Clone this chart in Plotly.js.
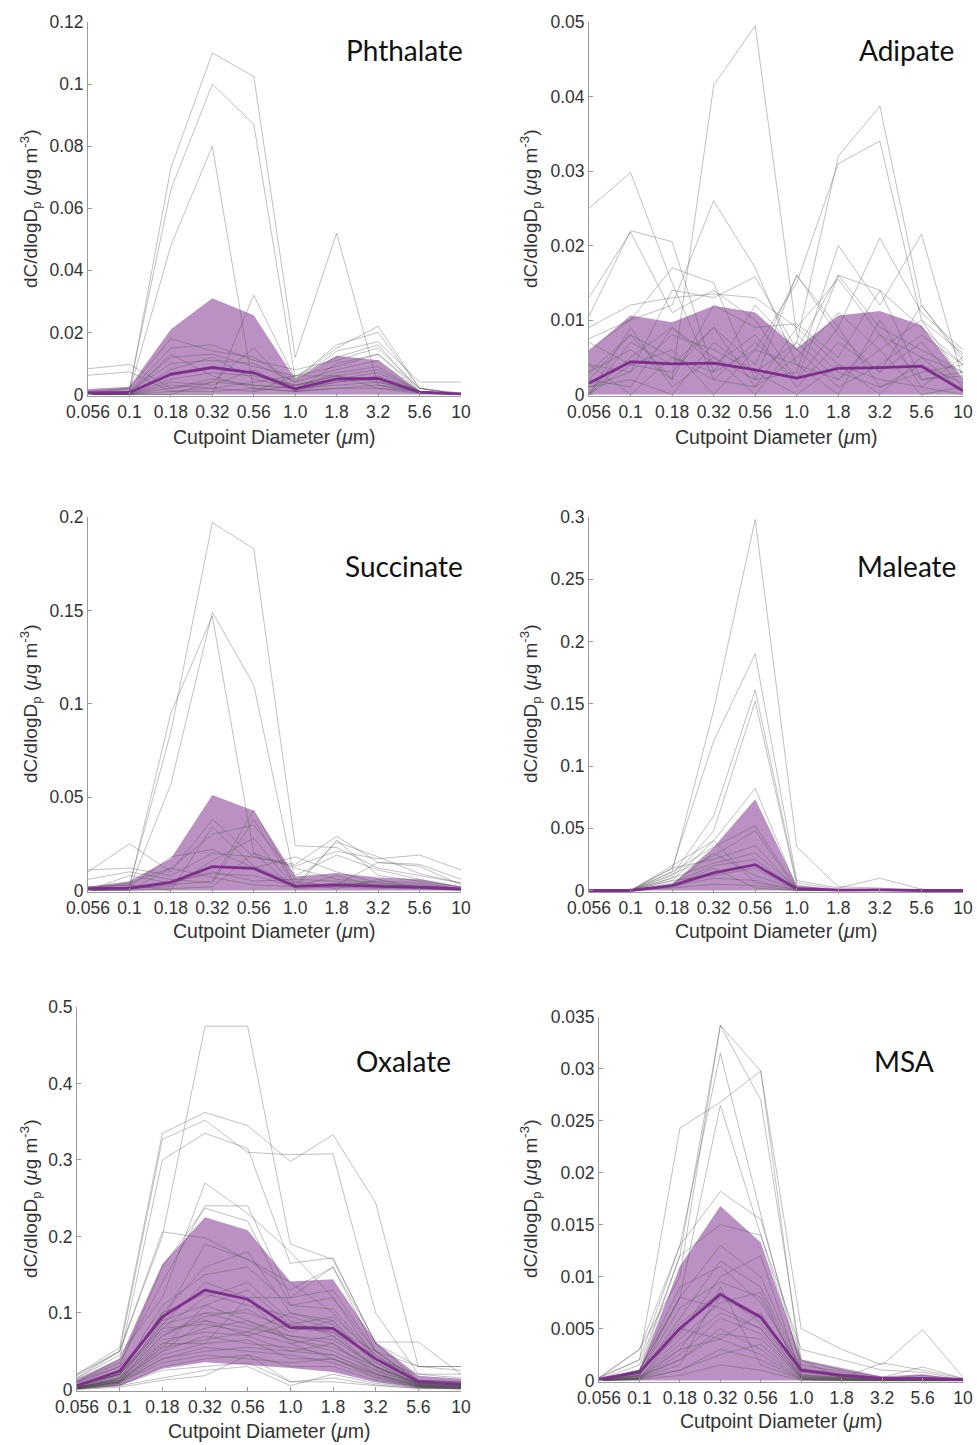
<!DOCTYPE html>
<html>
<head>
<meta charset="utf-8">
<script src="https://cdn.plot.ly/plotly-3.0.1.min.js"></script>
<style>html,body{margin:0;padding:0;background:#fff;}#chart{width:977px;height:1445px;}</style>
</head>
<body>
<div id="chart"></div>
<script>
// ---------------- DATA ----------------
const diameters = ['0.056','0.1','0.18','0.32','0.56','1.0','1.8','3.2','5.6','10'];

// Phthalate
const phthalateTicks = [0,0.02,0.04,0.06,0.08,0.1,0.12];
const phthalateTickText = ['0','0.02','0.04','0.06','0.08','0.1','0.12'];
const phthalateUpper = [0.0018,0.0025,0.021,0.031,0.0255,0.005,0.0125,0.011,0.001,0.0003];
const phthalateLower = [0,0,0,0,0,0,0,0,0,0];
const phthalateMean  = [0.0005,0.0006,0.0065,0.0087,0.007,0.0018,0.005,0.0052,0.0008,0.0002];
const phthalateSamples = [
  [0.0005,0.001,0.073,0.110,0.1025,0.012,0.052,0.003,0.001,0],
  [0.0003,0.002,0.066,0.100,0.087,0.005,0.015,0.022,0.002,0],
  [0.0005,0.001,0.048,0.080,0.001,0.006,0.012,0.016,0.001,0],
  [0,0,0.0,0.0,0.032,0.005,0.016,0.020,0.002,0],
  [0.0083,0.0097,0.002,0.004,0.003,0.002,0.004,0.005,0.001,0],
  [0.0062,0.0073,0.001,0.002,0.001,0.003,0.006,0.004,0.001,0],
  [0.001,0.002,0.018,0.014,0.012,0.004,0.014,0.017,0.004,0.004],
  [0.001,0.001,0.015,0.016,0.011,0.008,0.011,0.015,0.002,0.0005],
  [0,0.001,0.012,0.013,0.009,0.006,0.009,0.013,0.002,0],
  [0,0.001,0.010,0.011,0.010,0.004,0.008,0.011,0.001,0],
  [0,0,0.008,0.012,0.005,0.002,0.007,0.009,0.001,0],
  [0,0,0.005,0.007,0.006,0.003,0.005,0.007,0.001,0],
  [0,0,0.004,0.003,0.008,0.001,0.004,0.006,0.001,0],
  [0,0,0.002,0.005,0.003,0.002,0.003,0.004,0.0005,0],
  [0,0,0.013,0.006,0.002,0.001,0.002,0.003,0.0005,0],
  [0,0,0.003,0.002,0.004,0.006,0.006,0.002,0.001,0],
  [0,0,0.0,0.004,0.015,0.001,0.010,0.013,0.001,0],
  [0,0,0.007,0.009,0.007,0.003,0.006,0.008,0.001,0],
  [0,0,0.001,0.001,0.002,0.001,0.002,0.002,0.0003,0]
];

// Adipate
const adipateTicks = [0,0.01,0.02,0.03,0.04,0.05];
const adipateTickText = ['0','0.01','0.02','0.03','0.04','0.05'];
const adipateUpper = [0.0059,0.0106,0.0097,0.0119,0.011,0.0062,0.0106,0.0112,0.0093,0.002];
const adipateLower = [0,0,0,0,0,0,0,0,0,0];
const adipateMean  = [0.0015,0.0044,0.0041,0.0042,0.0033,0.0022,0.0035,0.0036,0.0038,0.0005];
const adipateSamples = [
  [0.025,0.0298,0.015,0.002,0.001,0.009,0.004,0.002,0.001,0.005],
  [0.003,0.006,0.002,0.0415,0.0495,0.008,0.003,0.001,0.003,0.004],
  [0.004,0.003,0.008,0.006,0.003,0.007,0.032,0.0387,0.012,0.005],
  [0.002,0.008,0.005,0.003,0.006,0.015,0.031,0.034,0.010,0.0055],
  [0.006,0.010,0.012,0.026,0.017,0.004,0.002,0.008,0.002,0.003],
  [0.0105,0.022,0.0205,0.003,0.012,0.006,0.001,0.004,0.008,0.004],
  [0.013,0.0218,0.011,0.014,0.010,0.002,0.016,0.009,0.006,0.003],
  [0,0.005,0.009,0.005,0.002,0.003,0.020,0.012,0.0215,0.002],
  [0.007,0.004,0.003,0.009,0.004,0.016,0.009,0.021,0.011,0.006],
  [0.001,0.003,0.014,0.013,0.0158,0.006,0.016,0.014,0.009,0.004],
  [0.0075,0.010,0.017,0.015,0.002,0.016,0.008,0.003,0.012,0.0045],
  [0.009,0.012,0.013,0.0135,0.013,0.009,0.0155,0.008,0.005,0.003],
  [0.003,0.008,0.002,0.012,0.009,0.0095,0.005,0.014,0.002,0.0025],
  [0,0.007,0.004,0.009,0.001,0.005,0.011,0.006,0.010,0.002],
  [0.002,0.001,0.009,0.004,0.008,0.001,0.007,0.003,0.007,0.001],
  [0,0.004,0.006,0,0.006,0.004,0,0.010,0.001,0],
  [0.001,0.002,0,0.007,0.003,0,0.004,0,0.005,0.0005],
  [0,0.009,0.001,0.005,0,0.007,0.002,0.006,0,0.001],
  [0.004,0,0.005,0.002,0.007,0.002,0.009,0.001,0.004,0.0015]
];

// Succinate
const succinateTicks = [0,0.05,0.1,0.15,0.2];
const succinateTickText = ['0','0.05','0.1','0.15','0.2'];
const succinateUpper = [0.002,0.005,0.0172,0.0512,0.0427,0.0075,0.0094,0.007,0.006,0.002];
const succinateLower = [0,0,0,0,0,0,0,0,0,0];
const succinateMean  = [0.001,0.0012,0.0044,0.0128,0.0119,0.0022,0.003,0.0022,0.0018,0.0008];
const succinateSamples = [
  [0.001,0.003,0.085,0.197,0.183,0.024,0.023,0.012,0.008,0.004],
  [0.002,0.001,0.057,0.149,0.110,0.005,0.002,0.001,0.001,0.001],
  [0.0,0.002,0.095,0.147,0.020,0.012,0.006,0.004,0.002,0.001],
  [0.001,0.001,0.003,0.005,0.043,0.003,0.026,0.018,0.009,0.004],
  [0.010,0.025,0.010,0.038,0.018,0.014,0.029,0.015,0.013,0.003],
  [0.011,0.012,0.008,0.020,0.018,0.013,0.021,0.017,0.019,0.011],
  [0.006,0.010,0.006,0.004,0.038,0.002,0.003,0.015,0.014,0.006],
  [0.001,0.004,0.012,0.030,0.035,0.008,0.019,0.011,0.006,0.002],
  [0,0.002,0.018,0.022,0.012,0.018,0.010,0.004,0.003,0.001],
  [0,0.001,0.002,0.016,0.028,0.001,0.027,0.008,0.005,0.002],
  [0,0.008,0.004,0.010,0.005,0.006,0.005,0.003,0.002,0.001],
  [0,0,0.001,0.002,0.020,0.001,0.002,0.005,0.004,0.001],
  [0,0,0.012,0.007,0.003,0.002,0.008,0.002,0.001,0],
  [0.002,0.003,0.000,0.034,0.013,0.004,0.001,0.006,0.001,0.0005],
  [0,0.001,0.005,0.009,0.008,0.002,0.004,0.003,0.002,0.001]
];

// Maleate
const maleateTicks = [0,0.05,0.1,0.15,0.2,0.25,0.3];
const maleateTickText = ['0','0.05','0.1','0.15','0.2','0.25','0.3'];
const maleateUpper = [0,0,0.005,0.0347,0.0733,0.004,0.001,0.001,0.0003,0];
const maleateLower = [0,0,0,0,0,0,0,0,0,0];
const maleateMean  = [0,0,0.004,0.0141,0.0208,0.0015,0.0003,0.0005,0,0];
const maleateSamples = [
  [0,0,0.015,0.145,0.298,0.035,0.003,0.002,0,0],
  [0,0,0.018,0.120,0.190,0.008,0.002,0.0099,0.001,0],
  [0,0,0.012,0.060,0.161,0.006,0.001,0.001,0,0],
  [0,0,0.010,0.048,0.152,0.004,0,0,0,0],
  [0,0,0.008,0.040,0.082,0.002,0,0,0,0],
  [0,0,0.020,0.040,0.006,0.001,0,0,0,0],
  [0,0,0.015,0.035,0.052,0.002,0,0.001,0,0],
  [0,0,0.013,0.028,0.048,0.001,0,0,0,0],
  [0,0,0.018,0.025,0.036,0.001,0,0,0,0],
  [0,0,0.010,0.022,0.030,0.002,0,0,0,0],
  [0,0,0.006,0.020,0.025,0.001,0,0,0,0],
  [0,0,0.005,0.030,0.012,0.001,0,0,0,0],
  [0,0,0.008,0.012,0.018,0,0,0,0,0],
  [0,0,0.003,0.010,0.008,0,0,0,0,0],
  [0,0,0.002,0.005,0.004,0,0,0,0,0],
  [0,0,0.004,0.018,0.002,0,0,0,0,0]
];

// Oxalate
const oxalateTicks = [0,0.1,0.2,0.3,0.4,0.5];
const oxalateTickText = ['0','0.1','0.2','0.3','0.4','0.5'];
const oxalateUpper = [0.014,0.040,0.164,0.225,0.208,0.141,0.144,0.062,0.018,0.014];
const oxalateLower = [0.0,0.005,0.027,0.0356,0.032,0.028,0.023,0.0095,0.002,0.0];
const oxalateMean  = [0.005,0.024,0.095,0.130,0.118,0.081,0.080,0.040,0.010,0.007];
const oxalateSamples = [
  [0.015,0.050,0.200,0.475,0.475,0.190,0.170,0.060,0.030,0.025],
  [0.020,0.055,0.335,0.362,0.345,0.298,0.333,0.244,0.030,0.030],
  [0.018,0.050,0.327,0.352,0.310,0.307,0.308,0.100,0.020,0.020],
  [0.010,0.040,0.300,0.335,0.315,0.165,0.172,0.060,0.012,0.010],
  [0.015,0.045,0.120,0.270,0.230,0.180,0.120,0.050,0.010,0.008],
  [0.010,0.035,0.140,0.240,0.240,0.120,0.160,0.062,0.062,0.020],
  [0.020,0.050,0.206,0.198,0.170,0.130,0.160,0.050,0.030,0.030],
  [0.008,0.030,0.160,0.237,0.220,0.110,0.120,0.040,0.020,0.015],
  [0.010,0.030,0.090,0.190,0.170,0.140,0.100,0.040,0.010,0.006],
  [0.005,0.020,0.100,0.160,0.180,0.100,0.090,0.030,0.008,0.005],
  [0.006,0.020,0.085,0.140,0.120,0.120,0.130,0.050,0.012,0.010],
  [0.004,0.020,0.080,0.120,0.140,0.090,0.070,0.030,0.006,0.004],
  [0.003,0.015,0.070,0.100,0.100,0.080,0.075,0.040,0.010,0.006],
  [0.004,0.020,0.075,0.090,0.080,0.070,0.060,0.025,0.005,0.004],
  [0.002,0.015,0.060,0.080,0.090,0.065,0.055,0.030,0.008,0.005],
  [0.003,0.012,0.065,0.075,0.070,0.050,0.060,0.020,0.005,0.003],
  [0.002,0.010,0.050,0.070,0.060,0.055,0.045,0.022,0.004,0.003],
  [0.001,0.010,0.045,0.060,0.065,0.040,0.040,0.018,0.004,0.002],
  [0.002,0.008,0.040,0.055,0.050,0.045,0.035,0.015,0.003,0.002],
  [0.001,0.005,0.030,0.040,0.045,0.030,0.030,0.012,0.003,0.002],
  [0.001,0.005,0.015,0.025,0.030,0.005,0.020,0.008,0.002,0.001],
  [0.000,0.003,0.012,0.018,0.045,0.010,0.015,0.006,0.001,0.001],
  [0.002,0.010,0.080,0.085,0.075,0.100,0.085,0.035,0.006,0.004],
  [0.003,0.012,0.055,0.110,0.090,0.070,0.065,0.030,0.007,0.005],
  [0.001,0.008,0.060,0.060,0.120,0.060,0.040,0.020,0.004,0.003],
  [0.003,0.015,0.090,0.110,0.130,0.085,0.095,0.045,0.009,0.006],
  [0.002,0.012,0.070,0.095,0.105,0.075,0.090,0.035,0.007,0.005],
  [0.004,0.018,0.100,0.125,0.110,0.095,0.080,0.050,0.012,0.008],
  [0.001,0.010,0.055,0.065,0.075,0.060,0.070,0.028,0.005,0.003],
  [0.003,0.014,0.085,0.100,0.085,0.065,0.050,0.025,0.006,0.004],
  [0.002,0.010,0.040,0.050,0.055,0.050,0.045,0.020,0.004,0.003],
  [0.002,0.009,0.035,0.045,0.040,0.035,0.040,0.016,0.003,0.002],
  [0.005,0.020,0.110,0.150,0.160,0.110,0.105,0.045,0.011,0.007],
  [0.001,0.006,0.025,0.030,0.035,0.010,0.010,0.005,0.002,0.001],
  [0.003,0.012,0.050,0.090,0.070,0.085,0.075,0.030,0.006,0.004]
];

// MSA
const msaTicks = [0,0.005,0.01,0.015,0.02,0.025,0.03,0.035];
const msaTickText = ['0','0.005','0.01','0.015','0.02','0.025','0.03','0.035'];
const msaUpper = [0.0003,0.001,0.011,0.0168,0.0133,0.002,0.0012,0.0004,0.0006,0.0001];
const msaLower = [0,0,0,0,0,0,0,0,0,0];
const msaMean  = [0.0001,0.0008,0.005,0.0083,0.0061,0.001,0.0005,0.0002,0.0002,0.0001];
const msaSamples = [
  [0.0003,0.002,0.0243,0.0268,0.0298,0.001,0.0005,0.0003,0.0002,0.0001],
  [0.0002,0.003,0.010,0.0342,0.0298,0.005,0.003,0.0015,0.0049,0.0003],
  [0.0001,0.001,0.012,0.0342,0.027,0.002,0.0002,0.0017,0.001,0.0002],
  [0.0002,0.002,0.013,0.0315,0.016,0.001,0.0003,0.0002,0.0001,0],
  [0.0001,0.001,0.008,0.0265,0.014,0.003,0.002,0.001,0.0008,0.0001],
  [0.0003,0.003,0.013,0.0182,0.0155,0.002,0.001,0.0003,0.0013,0.0002],
  [0.0001,0.0015,0.012,0.015,0.014,0.0015,0.0008,0.0002,0.0005,0.0001],
  [0,0.001,0.008,0.013,0.010,0.001,0.0005,0.0002,0.0003,0],
  [0,0.0005,0.006,0.0115,0.009,0.0008,0.0004,0.0001,0.0002,0],
  [0,0.0008,0.0045,0.010,0.012,0.0005,0.0003,0.0001,0.0001,0],
  [0,0.0005,0.008,0.007,0.005,0.0003,0.0002,0.0001,0.0001,0],
  [0,0.0003,0.003,0.008,0.006,0.0002,0.0001,0,0,0],
  [0,0.0002,0.0025,0.006,0.0045,0.0002,0.0001,0,0,0],
  [0,0.0002,0.002,0.005,0.003,0.0001,0,0,0,0],
  [0,0.0001,0.001,0.003,0.002,0.0001,0,0,0,0],
  [0,0.0001,0.005,0.004,0.0065,0.0004,0.0002,0,0,0],
  [0,0.0002,0.0015,0.009,0.0015,0.0001,0,0,0,0],
  [0,0.0001,0.0005,0.0015,0.001,0,0,0,0,0],
  [0,0.0006,0.007,0.0095,0.008,0.0006,0.0003,0.0001,0.0001,0],
  [0,0.0004,0.004,0.0075,0.0085,0.0004,0.0002,0.0001,0.0001,0],
  [0,0.0003,0.0035,0.0065,0.005,0.0003,0.0002,0.0001,0,0],
  [0.0001,0.001,0.009,0.011,0.0075,0.0012,0.0006,0.0002,0.0003,0],
  [0,0.0004,0.002,0.0045,0.004,0.0003,0.0001,0,0,0],
  [0,0.0002,0.001,0.0025,0.0035,0.0002,0.0001,0,0,0],
  [0,0.0005,0.0055,0.0085,0.0055,0.0005,0.0002,0.0001,0.0001,0],
  [0,0.0002,0.003,0.004,0.0025,0.0001,0.0001,0,0,0]
];

// ---------------- LAYOUT / DRAWING ----------------
const W = 977, H = 1445;
const panels = [
  {name:'Phthalate', samples:phthalateSamples, upper:phthalateUpper, lower:phthalateLower, mean:phthalateMean, ticks:phthalateTicks, tickText:phthalateTickText, ymax:0.12,
   box:[88,461,22,396], label:[465,50], ytitle:[30,209], xtitle:[274,437]},
  {name:'Adipate', samples:adipateSamples, upper:adipateUpper, lower:adipateLower, mean:adipateMean, ticks:adipateTicks, tickText:adipateTickText, ymax:0.05,
   box:[589,963,22,396], label:[956,50], ytitle:[530,209], xtitle:[776,437]},
  {name:'Succinate', samples:succinateSamples, upper:succinateUpper, lower:succinateLower, mean:succinateMean, ticks:succinateTicks, tickText:succinateTickText, ymax:0.2,
   box:[88,461,517,892], label:[465,566], ytitle:[30,704], xtitle:[274,931]},
  {name:'Maleate', samples:maleateSamples, upper:maleateUpper, lower:maleateLower, mean:maleateMean, ticks:maleateTicks, tickText:maleateTickText, ymax:0.3,
   box:[589,963,517,892], label:[958,566], ytitle:[530,704], xtitle:[776,931]},
  {name:'Oxalate', samples:oxalateSamples, upper:oxalateUpper, lower:oxalateLower, mean:oxalateMean, ticks:oxalateTicks, tickText:oxalateTickText, ymax:0.5,
   box:[77,461,1007,1391], label:[453,1061], ytitle:[30,1199], xtitle:[269,1431]},
  {name:'MSA', samples:msaSamples, upper:msaUpper, lower:msaLower, mean:msaMean, ticks:msaTicks, tickText:msaTickText, ymax:0.035,
   box:[599,963,1017,1382], label:[936,1061], ytitle:[530,1199], xtitle:[781,1421]}
];

const traces = [];
const tickFont = {family: 'Liberation Sans, Arial, sans-serif', size: 17.5, color: '#333'};
const layout = {
  width: W, height: H,
  margin: {l:0, r:0, t:0, b:0},
  paper_bgcolor: '#ffffff', plot_bgcolor: '#ffffff',
  showlegend: false,
  font: {family: 'Liberation Sans, Arial, sans-serif', size: 17, color: '#333'},
  annotations: []
};

const greyLine = 'rgba(80,80,80,0.36)';
const purple = '#7E2F8E';
const purpleFill = 'rgba(126,47,142,0.53)';
const ytitleText = 'dC/dlogD<sub>p</sub> (<i>μ</i>g m<sup>-3</sup>)';
const xtitleText = 'Cutpoint Diameter (<i>μ</i>m)';

panels.forEach((p, i) => {
  const n = i + 1;
  const xa = n === 1 ? 'x' : 'x' + n;
  const ya = n === 1 ? 'y' : 'y' + n;
  const xKey = n === 1 ? 'xaxis' : 'xaxis' + n;
  const yKey = n === 1 ? 'yaxis' : 'yaxis' + n;
  const [x0, x1, yTop, yBot] = p.box;

  layout[xKey] = {
    domain: [x0 / W, x1 / W],
    anchor: ya,
    type: 'category',
    categoryorder: 'array', categoryarray: diameters,
    range: [0, diameters.length - 1],
    showgrid: false, zeroline: false,
    showline: true, linecolor: '#9a9a9a', linewidth: 1,
    ticks: 'inside', ticklen: 4, tickcolor: '#9a9a9a',
    tickfont: tickFont,
    fixedrange: true
  };
  layout[yKey] = {
    domain: [1 - yBot / H, 1 - yTop / H],
    anchor: xa,
    range: [-p.ymax * 0.004, p.ymax],
    tickvals: p.ticks, ticktext: p.tickText,
    showgrid: false, zeroline: false,
    showline: true, linecolor: '#9a9a9a', linewidth: 1,
    ticks: 'inside', ticklen: 4, tickcolor: '#9a9a9a',
    tickfont: tickFont,
    fixedrange: true
  };

  // shaded band
  traces.push({x: diameters, y: p.lower, xaxis: xa, yaxis: ya, type: 'scatter', mode: 'lines',
    line: {width: 0, color: purpleFill}, hoverinfo: 'skip'});
  traces.push({x: diameters, y: p.upper, xaxis: xa, yaxis: ya, type: 'scatter', mode: 'lines',
    fill: 'tonexty', fillcolor: purpleFill, line: {width: 0, color: purpleFill}, hoverinfo: 'skip'});

  // individual samples
  p.samples.forEach(s => {
    traces.push({x: diameters, y: s, xaxis: xa, yaxis: ya, type: 'scatter', mode: 'lines',
      line: {width: 1, color: greyLine}, hoverinfo: 'skip'});
  });

  // mean
  traces.push({x: diameters, y: p.mean, xaxis: xa, yaxis: ya, type: 'scatter', mode: 'lines',
    line: {width: 2.8, color: purple}, hoverinfo: 'skip'});

  // panel label
  layout.annotations.push({text: p.name, xref: 'paper', yref: 'paper',
    x: p.label[0] / W, y: 1 - p.label[1] / H, xanchor: 'right', yanchor: 'middle',
    showarrow: false, font: {family: 'Lato, Open Sans, sans-serif', size: 28, color: '#111'}});
  // y title
  layout.annotations.push({text: ytitleText, xref: 'paper', yref: 'paper',
    x: p.ytitle[0] / W, y: 1 - p.ytitle[1] / H, xanchor: 'center', yanchor: 'middle', textangle: -90,
    showarrow: false, font: {family: 'Liberation Sans, Arial, sans-serif', size: 19, color: '#333'}});
  // x title
  layout.annotations.push({text: xtitleText, xref: 'paper', yref: 'paper',
    x: p.xtitle[0] / W, y: 1 - p.xtitle[1] / H, xanchor: 'center', yanchor: 'middle',
    showarrow: false, font: {family: 'Liberation Sans, Arial, sans-serif', size: 19.5, color: '#333'}});
});

Plotly.newPlot('chart', traces, layout, {displayModeBar: false, staticPlot: true});
</script>
</body>
</html>
